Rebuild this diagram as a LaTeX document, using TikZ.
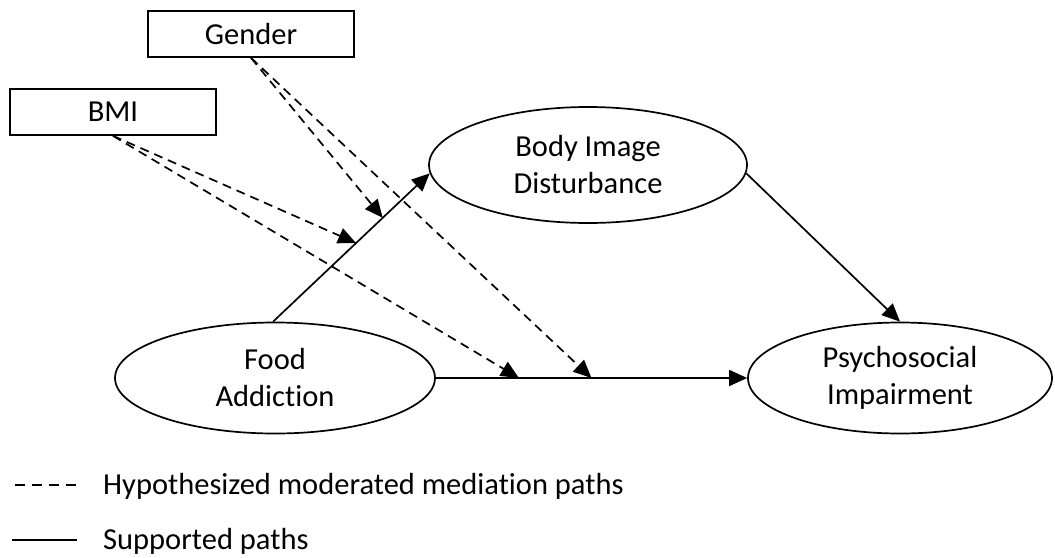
\documentclass[tikz,border=0pt]{standalone}
\usepackage{fontspec}
\setmainfont[Ligatures=NoCommon]{Carlito}
\usetikzlibrary{shapes.geometric,arrows.meta,calc}
\begin{document}
\begin{tikzpicture}[x=1pt,y=-1pt,
  every node/.style={font=\fontsize{30.5}{37}\selectfont},
  var/.style={draw,line width=1.7pt,ellipse,inner sep=0pt,align=center},
  modbox/.style={draw,line width=1.7pt,rectangle,inner sep=0pt,minimum width=206pt,minimum height=46pt},
  path/.style={line width=1.7pt,-{Triangle[length=18pt,width=16pt]}},
  hyp/.style={path,dash pattern=on 9pt off 6pt},
  lg/.style={line width=1.7pt}]
\useasboundingbox (0,0) rectangle (1055,557);
\node[modbox] (g) at (251,34) {Gender};
\node[modbox] (b) at (113,112) {BMI};
\node[var,minimum width=318pt,minimum height=116pt] (bid) at (588,165) {Body Image\\Disturbance};
\node[var,minimum width=320pt,minimum height=111pt] (fa) at (275,378) {Food\\Addiction};
\node[var,minimum width=304pt,minimum height=111pt] (pi) at (900,378) {Psychosocial\\Impairment};
\draw[path] (fa.92) -- (bid.183);
\draw[path] (fa.east) -- (pi.west);
\draw[path] (bid.357) -- (pi.north);
\coordinate (m1) at ($(fa.92)!0.70!(bid.183)$);
\coordinate (m2) at ($(fa.92)!0.53!(bid.183)$);
\coordinate (m3) at ($(fa.east)!0.267!(pi.west)$);
\coordinate (m4) at ($(fa.east)!0.50!(pi.west)$);
\draw[hyp] (g.south) -- (m1);
\draw[hyp] (g.south) -- (m4);
\draw[hyp] (b.south) -- (m2);
\draw[hyp] (b.south) -- (m3);
\coordinate (l1a) at (15,485);
\coordinate (l1b) at (77,485);
\coordinate (l2a) at (12,540);
\coordinate (l2b) at (77,540);
\draw[lg,dash pattern=on 10pt off 7pt] (l1a) -- (l1b);
\draw[lg] (l2a) -- (l2b);
\node[anchor=base west,inner sep=0pt] (t1) at (103,494) {Hypothesized moderated mediation paths};
\node[anchor=base west,inner sep=0pt] (t2) at (103,549) {Supported paths};
\end{tikzpicture}
\end{document}
